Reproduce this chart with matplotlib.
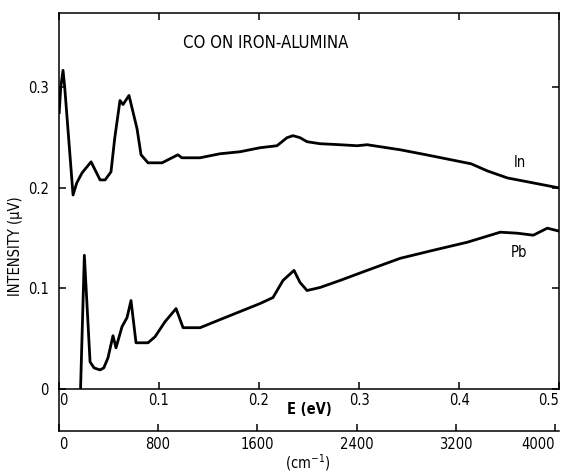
import numpy as np
import matplotlib
matplotlib.use("Agg")
from matplotlib import pyplot as plt
from matplotlib.lines import Line2D

plt.rcParams['font.family'] = ['DejaVu Sans']
plt.rcParams['font.stretch'] = 'condensed'

# In tunnel junction trace (energy in eV, intensity in uV)
in_ev = [0.0005, 0.002, 0.0043, 0.006, 0.0143, 0.018, 0.0233, 0.0323, 0.0413, 0.0463,
         0.0522, 0.056, 0.0612, 0.0642, 0.0702, 0.0782, 0.0822, 0.0892, 0.1032, 0.119,
         0.123, 0.141, 0.161, 0.181, 0.201, 0.218, 0.228, 0.234, 0.241, 0.248,
         0.261, 0.281, 0.298, 0.308, 0.341, 0.367, 0.392, 0.412, 0.428, 0.448,
         0.474, 0.500]
in_int = [0.275, 0.300, 0.317, 0.300, 0.193, 0.205, 0.215, 0.226, 0.208, 0.208,
          0.216, 0.250, 0.287, 0.283, 0.292, 0.259, 0.233, 0.225, 0.225, 0.233,
          0.230, 0.230, 0.234, 0.236, 0.240, 0.242, 0.250, 0.252, 0.250, 0.246,
          0.244, 0.243, 0.242, 0.243, 0.238, 0.233, 0.228, 0.224, 0.217, 0.210,
          0.205, 0.200]

# Pb tunnel junction trace
pb_ev = [0.0218, 0.0256, 0.0313, 0.0353, 0.0412, 0.045, 0.0492, 0.0542, 0.0572,
         0.0632, 0.0682, 0.0722, 0.0772, 0.0892, 0.0962, 0.1062, 0.1172, 0.1242,
         0.1412, 0.161, 0.181, 0.201, 0.214, 0.224, 0.235, 0.241, 0.248, 0.261,
         0.281, 0.308, 0.341, 0.374, 0.408, 0.441, 0.458, 0.474, 0.488, 0.500]
pb_int = [0.0, 0.133, 0.027, 0.021, 0.019, 0.021, 0.031, 0.053, 0.041,
          0.062, 0.071, 0.088, 0.046, 0.046, 0.052, 0.067, 0.080, 0.061,
          0.061, 0.069, 0.077, 0.085, 0.091, 0.108, 0.118, 0.106, 0.098, 0.101,
          0.108, 0.118, 0.130, 0.138, 0.146, 0.156, 0.155, 0.153, 0.160, 0.157]

ev_ticks = [0, 0.1, 0.2, 0.3, 0.4, 0.5]
ev_labels = ["0", "0.1", "0.2", "0.3", "0.4", "0.5"]
cm_ticks = [0, 800, 1600, 2400, 3200, 4000]
y_ticks = [0, 0.1, 0.2, 0.3]
y_labels = ["0", "0.1", "0.2", "0.3"]

CM_PER_EV = 8065.5


def ev2cm(x):
    return x * CM_PER_EV


def cm2ev(x):
    return x / CM_PER_EV


fig = plt.figure(figsize=(5.63, 4.72), dpi=100)
ax = fig.add_axes([0.1043, 0.1758, 0.8892, 0.7966])

ax.plot(in_ev, in_int, color="black", linewidth=2.0, solid_joinstyle="round")
ax.plot(pb_ev, pb_int, color="black", linewidth=2.0, solid_joinstyle="round")

ax.set_xlim(0, 0.5)
ax.set_ylim(0, 0.374)

ax.set_xticks(ev_ticks)
ax.set_xticklabels(ev_labels)
ax.set_yticks(y_ticks)
ax.set_yticklabels(y_labels)
ax.tick_params(axis="both", direction="in", length=5, width=1.1,
               labelsize=10.5, top=True, right=True)
ax.tick_params(axis="x", pad=3)
ax.tick_params(axis="y", pad=7)
xl = ax.get_xticklabels()
xl[0].set_ha("left")
xl[-1].set_ha("right")
for s in ax.spines.values():
    s.set_linewidth(1.1)

# wavenumber scale underneath
sec = ax.secondary_xaxis(-0.112, functions=(ev2cm, cm2ev))
sec.set_xticks(cm_ticks)
sec.set_xticklabels([str(c) for c in cm_ticks])
sec.tick_params(axis="x", direction="in", length=5, width=1.1,
                labelsize=10.5, pad=4)
sec.spines["bottom"].set_linewidth(1.1)
sl = sec.get_xticklabels()
sl[0].set_ha("left")
sl[-1].set_ha("right")

# extend left spine down to the wavenumber scale
ax.add_line(Line2D([0, 0], [0, -0.112], transform=ax.transAxes,
                   color="black", linewidth=1.1, clip_on=False))

ax.text(0.50, -0.055, "E (eV)", transform=ax.transAxes, ha="center",
        va="center", fontsize=10.5, fontweight="bold")
ax.text(0.497, -0.197, "(cm$^{-1}$)", transform=ax.transAxes, ha="center",
        va="center", fontsize=10.5)
ax.text(-0.087, 0.38, "INTENSITY (\u03bcV)", transform=ax.transAxes,
        rotation=90, ha="center", va="center", fontsize=10.5)

ax.text(0.414, 0.92, "CO ON IRON-ALUMINA", transform=ax.transAxes,
        ha="center", va="center", fontsize=12)
ax.text(0.461, 0.2256, "In", ha="center", va="center", fontsize=10.5)
ax.text(0.460, 0.136, "Pb", ha="center", va="center", fontsize=10.5)

fig.savefig("out.png", dpi=100)
